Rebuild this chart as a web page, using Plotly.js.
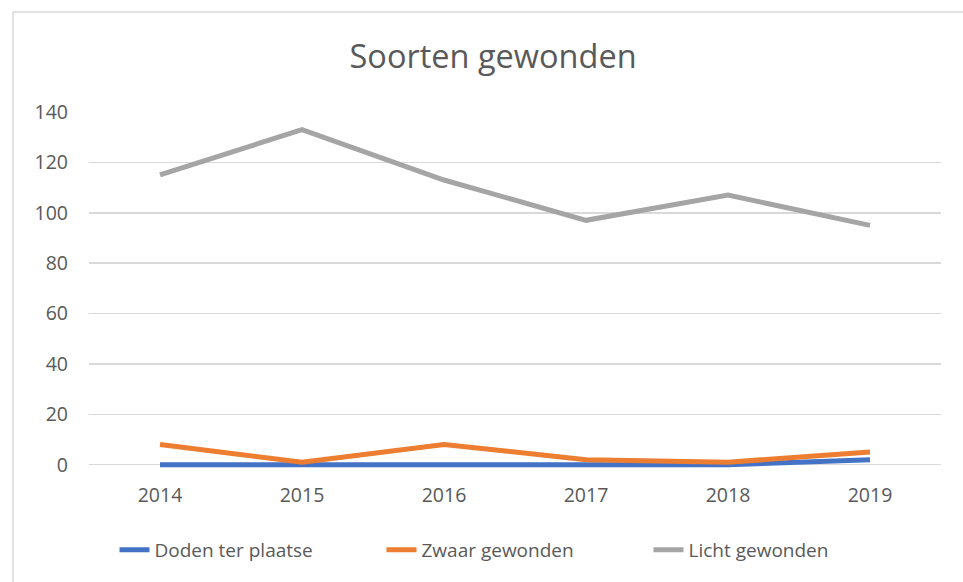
<!DOCTYPE html>
<html>
<head>
<meta charset="utf-8">
<script src="https://cdn.plot.ly/plotly-3.0.1.min.js"></script>
<style>html,body{margin:0;padding:0;background:#fff;}#chart{width:963px;height:582px;}</style>
</head>
<body>
<div id="chart"></div>
<script>
const years = ['2014', '2015', '2016', '2017', '2018', '2019'];
const doden = [0, 0, 0, 0, 0, 2];
const zwaar = [8, 1, 8, 2, 1, 5];
const licht = [115, 133, 113, 97, 107, 95];
const seriesNames = ['Doden ter plaatse', 'Zwaar gewonden', 'Licht gewonden'];
const seriesColors = ['#4472C4', '#ED7D31', '#A5A5A5'];
const yTicks = [0, 20, 40, 60, 80, 100, 120, 140];

const FONT = '"Open Sans", "Noto Sans", sans-serif';
const values = [doden, zwaar, licht];
const traces = values.map((v, i) => ({
  type: 'scatter', mode: 'lines', x: years, y: v, name: seriesNames[i],
  line: {color: seriesColors[i], width: 5}
}));

const layout = {
  width: 963, height: 582,
  margin: {l: 89, r: 22, t: 112, b: 111},
  paper_bgcolor: '#ffffff', plot_bgcolor: '#ffffff',
  font: {family: FONT, color: '#595959', size: 19},
  title: {text: 'Soorten gewonden', font: {family: FONT, size: 32.5, color: '#595959'},
          x: 0.512, xanchor: 'center', y: 0.902, yref: 'container', yanchor: 'middle'},
  xaxis: {type: 'category', range: [-0.5, 5.5], showgrid: false, zeroline: false, showline: false,
          ticks: '', ticklabelstandoff: 10, tickfont: {size: 19.5, color: '#595959'}},
  yaxis: {range: [-2.5, 140], tickvals: yTicks, ticktext: yTicks.map(String), showgrid: true,
          gridcolor: '#d9d9d9', gridwidth: 1.5, zeroline: true, zerolinecolor: '#d9d9d9', zerolinewidth: 1.5,
          showline: false, ticks: '', ticklabelstandoff: 20, tickfont: {size: 19.5, color: '#595959'}},
  legend: {orientation: 'h', x: 0.5, xanchor: 'center', y: -0.22, yanchor: 'middle',
           entrywidth: 222, entrywidthmode: 'pixels',
           font: {size: 19, color: '#595959'}, itemclick: false},
  showlegend: true,
  shapes: [{type: 'rect', xref: 'paper', yref: 'paper', x0: -0.0892, x1: 1.1, y0: -0.5, y1: 1.2786,
            line: {color: '#d9d9d9', width: 1.5}, fillcolor: 'rgba(0,0,0,0)', layer: 'below'}]
};

Plotly.newPlot('chart', traces, layout, {displayModeBar: false, staticPlot: true});
</script>
</body>
</html>
